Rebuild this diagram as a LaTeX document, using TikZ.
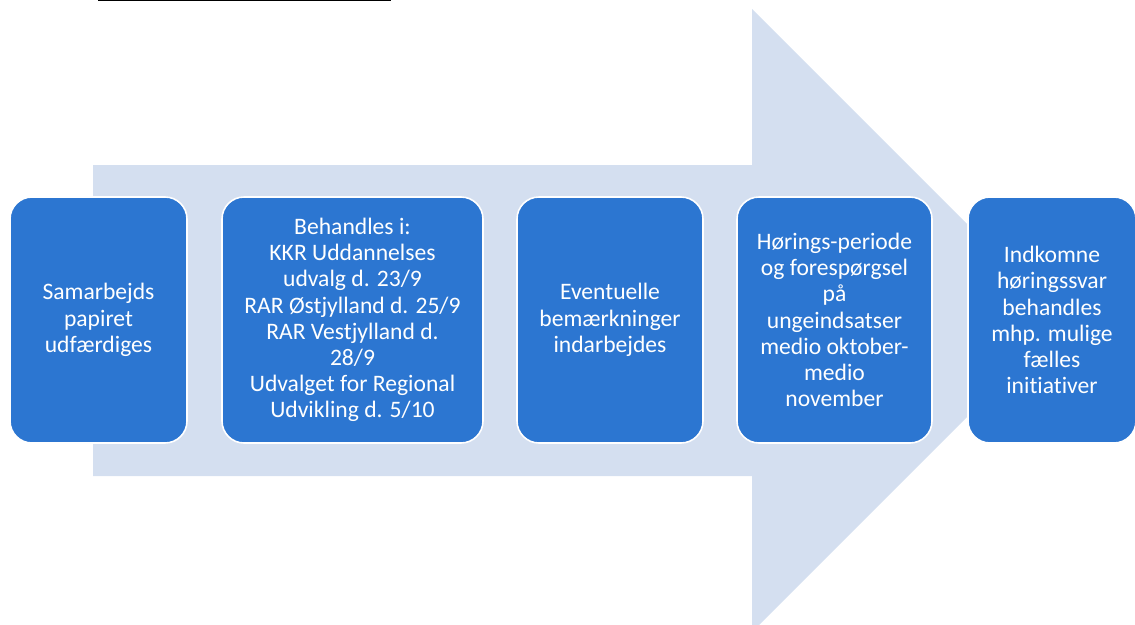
\documentclass[tikz,border=0pt]{standalone}
\usepackage{fontspec}
\setmainfont{Carlito}[Ligatures=NoCommon]
\definecolor{arrowfill}{HTML}{D4DFF0}
\definecolor{boxfill}{HTML}{2C76D1}
\begin{document}
\begin{tikzpicture}[x=1pt,y=-1pt,
  stepbox/.style={draw=white, line width=1.6pt, fill=boxfill, rounded corners=22pt,
    text=white, align=center, inner sep=0pt, minimum height=246pt,
    font=\fontsize{23.6}{26.2}\selectfont}]
\useasboundingbox (0,0) rectangle (1135,624);
\clip (0,0) rectangle (1135,624);
% top rule
\draw[line width=1.2pt] (98,0.7) -- (391,0.7);
% big background arrow
\fill[arrowfill] (93,165) -- (752,165) -- (752,9) -- (1063.5,320.5) -- (752,632) -- (752,476) -- (93,476) -- cycle;
% steps
\node[stepbox, minimum width=177pt] (s1) at (98.5,320) {Samarbejds\\papiret\\udfærdiges};
\node[stepbox, minimum width=261pt] (s2) at (352.5,320) {Behandles i:\\KKR Uddannelses\\udvalg d. 23/9\\RAR Østjylland d. 25/9\\RAR Vestjylland d.\\28/9\\Udvalget for Regional\\Udvikling d. 5/10};
\node[stepbox, minimum width=186pt] (s3) at (610,320) {Eventuelle\\bemærkninger\\indarbejdes};
\node[stepbox, minimum width=195pt] (s4) at (834.5,320) {Hørings-periode\\og forespørgsel\\på\\ungeindsatser\\medio oktober-\\medio\\november};
\node[stepbox, minimum width=168pt] (s5) at (1052,320) {Indkomne\\høringssvar\\behandles\\mhp. mulige\\fælles\\initiativer};
\end{tikzpicture}
\end{document}
